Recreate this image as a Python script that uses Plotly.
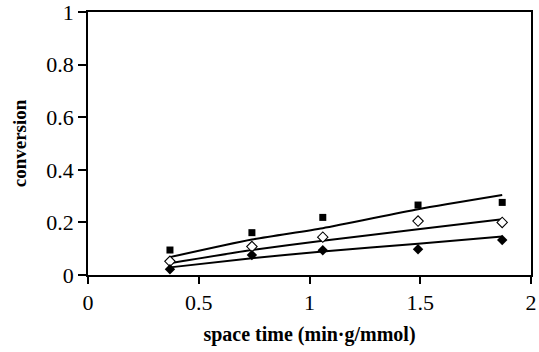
import plotly.graph_objects as go

space_time = [0.37, 0.74, 1.06, 1.49, 1.87]
conv_square = [0.095, 0.161, 0.219, 0.266, 0.276]
conv_open_diamond = [0.052, 0.108, 0.144, 0.205, 0.200]
conv_filled_diamond = [0.022, 0.076, 0.094, 0.098, 0.133]

model_x = [0.37, 0.74, 1.06, 1.49, 1.87]
model_top = [0.068, 0.135, 0.178, 0.250, 0.304]
model_mid = [0.045, 0.095, 0.130, 0.174, 0.212]
model_bot = [0.029, 0.064, 0.089, 0.119, 0.146]

x_ticks = [0, 0.5, 1, 1.5, 2]
x_tick_labels = ["0", "0.5", "1", "1.5", "2"]
y_ticks = [0, 0.2, 0.4, 0.6, 0.8, 1]
y_tick_labels = ["0", "0.2", "0.4", "0.6", "0.8", "1"]

fig = go.Figure()
for ys in (model_top, model_mid, model_bot):
    fig.add_trace(go.Scatter(x=model_x, y=ys, mode="lines",
                             line=dict(color="black", width=2, shape="spline", smoothing=0.6),
                             showlegend=False, hoverinfo="skip"))

fig.add_trace(go.Scatter(x=space_time, y=conv_square, mode="markers",
                         marker=dict(symbol="square", size=7, color="black"),
                         showlegend=False))
fig.add_trace(go.Scatter(x=space_time, y=conv_open_diamond, mode="markers",
                         marker=dict(symbol="diamond", size=8, color="white",
                                     line=dict(color="black", width=1.1)),
                         showlegend=False))
fig.add_trace(go.Scatter(x=space_time, y=conv_filled_diamond, mode="markers",
                         marker=dict(symbol="diamond", size=8, color="black"),
                         showlegend=False))

family = "Liberation Serif, Times New Roman, serif"

fig.update_layout(
    width=539, height=352,
    margin=dict(l=88, r=8, t=12, b=77),
    paper_bgcolor="white", plot_bgcolor="white",
    font=dict(family=family, size=22, color="black"),
    xaxis=dict(range=[0, 2], tickvals=x_ticks, ticktext=x_tick_labels,
               showgrid=False, zeroline=False, showline=True, mirror=True,
               linecolor="black", linewidth=1.5, ticks="outside", ticklen=7,
               tickwidth=1.5, tickcolor="black", ticklabeloverflow="allow",
               automargin=False,
               title=dict(text="<b>space time (min·g/mmol)</b>",
                          font=dict(family=family, size=20), standoff=13)),
    yaxis=dict(range=[0, 1], tickvals=y_ticks, ticktext=y_tick_labels,
               showgrid=False, zeroline=False, showline=True, mirror=True,
               linecolor="black", linewidth=1.5, ticks="outside", ticklen=8,
               tickwidth=1.5, tickcolor="black", ticklabeloverflow="allow",
               automargin=False,
               title=dict(text="<b>conversion</b>",
                          font=dict(family=family, size=19), standoff=15)),
)

fig.write_html("out.html")
